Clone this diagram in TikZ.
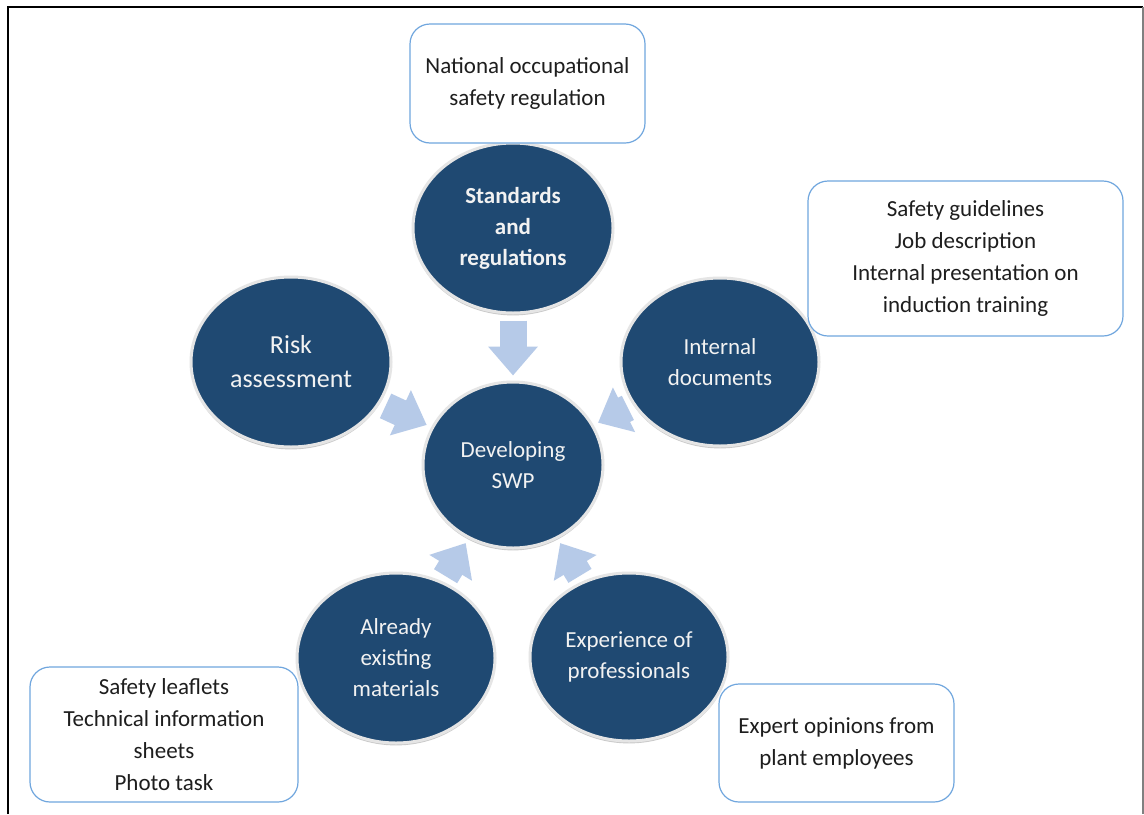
\documentclass[tikz,border=0pt]{standalone}
\usepackage{fontspec}
\setmainfont{Carlito}
\usetikzlibrary{arrows.meta,shadows,shapes.geometric}
\definecolor{circfill}{RGB}{31,73,114}
\definecolor{arrfill}{RGB}{182,202,232}
\definecolor{boxline}{RGB}{112,166,222}
\definecolor{txt}{RGB}{30,30,30}
\begin{document}
\begin{tikzpicture}[x=0.5pt,y=-0.5pt,
  bubble/.style={ellipse, fill=circfill, draw=white!90!black, line width=1.5pt,
    text=white!95!black, align=center, inner sep=0pt,
    font=\fontsize{11.5}{15.5}\selectfont,
    drop shadow={shadow xshift=0pt, shadow yshift=-1.2pt, opacity=0.35, fill=black!60}},
  infobox/.style={draw=boxline, line width=0.6pt, rounded corners=10pt, fill=white,
    align=center, inner sep=0pt, text=txt, font=\fontsize{11.5}{16}\selectfont},
  blockarr/.style={draw=arrfill, line width=13.5pt,
    -{Triangle[width=24pt,length=14.5pt]}, shorten <=3pt, shorten >=2.5pt}]
\useasboundingbox (0,0) rectangle (1144,814);
\fill[white] (0,0) rectangle (1144,814);
\draw[black, line width=0.8pt] (8,814) -- (8,7) -- (1143,7);
\draw[gray, line width=0.6pt] (1143,7) -- (1143,814);

% central and outer bubbles
\node[bubble, minimum width=90pt, minimum height=83pt] (dev) at (513,465) {Developing\\SWP};
\node[bubble, minimum width=100pt, minimum height=85pt, font=\fontsize{11.5}{15.5}\selectfont\bfseries] (std) at (513,228) {Standards\\and\\regulations};
\node[bubble, minimum width=100pt, minimum height=85pt, font=\fontsize{13}{17}\selectfont] (risk) at (291,362) {Risk\\assessment};
\node[bubble, minimum width=99pt, minimum height=84pt] (int) at (720,362) {Internal\\documents};
\node[bubble, minimum width=99pt, minimum height=85pt] (mat) at (396,658) {Already\\existing\\materials};
\node[bubble, minimum width=99pt, minimum height=84pt] (exp) at (629,657) {Experience of\\professionals};

% info boxes
\node[infobox, minimum width=117.5pt, minimum height=59.5pt] (natbox) at (527.5,83.5) {National occupational\\safety regulation};
\node[infobox, minimum width=157.5pt, minimum height=77.5pt] (intbox) at (965.5,258.5) {Safety guidelines\\Job description\\Internal presentation on\\induction training};
\node[infobox, minimum width=134pt, minimum height=67.5pt] (matbox) at (164,734.5) {Safety leaflets\\Technical information\\sheets\\Photo task};
\node[infobox, minimum width=117.5pt, minimum height=59pt] (expbox) at (836.5,743) {Expert opinions from\\plant employees};

% block arrows
\draw[blockarr] (std) -- (dev);
\draw[blockarr] (risk) -- (dev);
\draw[blockarr] (int) -- (dev);
\draw[blockarr] (mat) -- (dev);
\draw[blockarr] (exp) -- (dev);
\end{tikzpicture}
\end{document}
